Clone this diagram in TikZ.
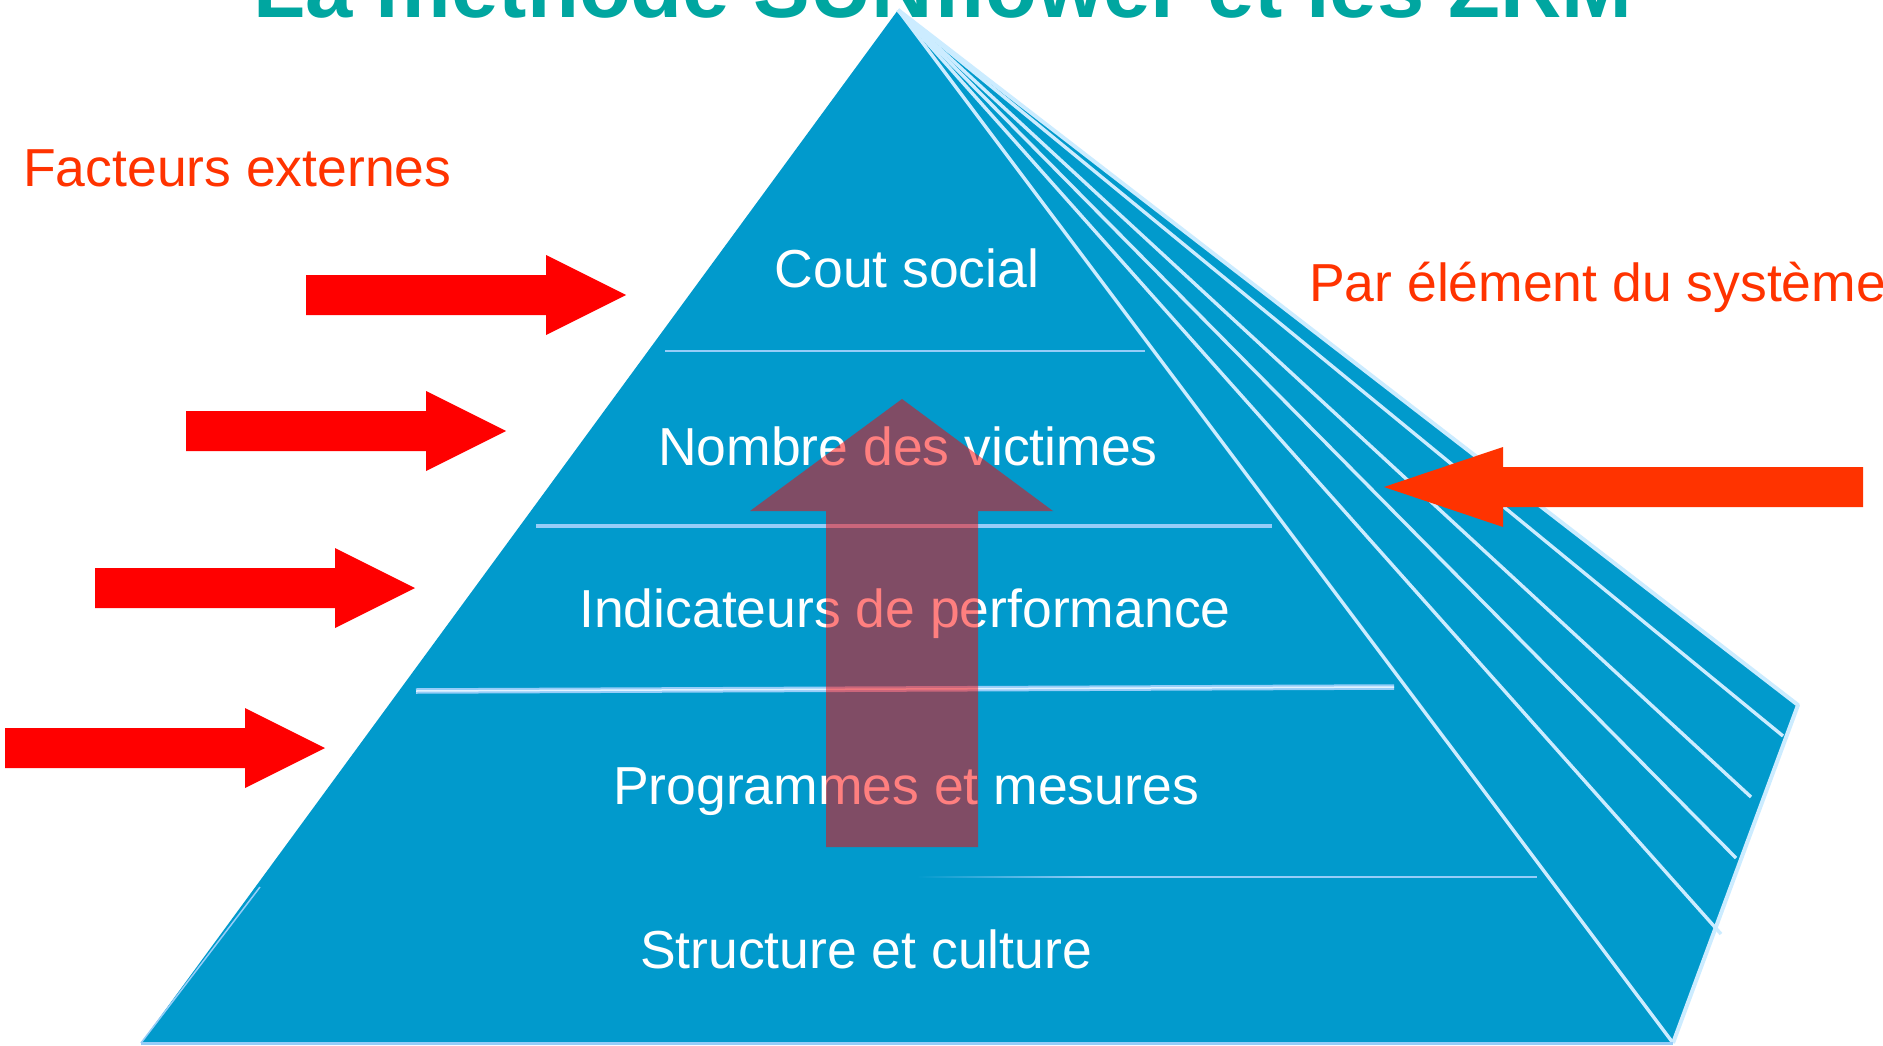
\documentclass[tikz,border=0pt]{standalone}
\usepackage{fontspec}
\setmainfont{Liberation Sans}
\definecolor{pyrblue}{RGB}{1,154,204}
\definecolor{fanpale}{RGB}{204,236,255}
\definecolor{layerpale}{RGB}{150,205,248}
\definecolor{layerlight}{RGB}{225,242,255}
\definecolor{titleteal}{RGB}{0,166,160}
\definecolor{orangered}{RGB}{255,51,0}
\definecolor{purered}{RGB}{255,0,0}
\tikzset{
  pyrfill/.style={fill=pyrblue},
  fanline/.style={draw=fanpale, line width=3.4pt},
  edgeline/.style={draw=fanpale, line width=4pt, line join=round},
  layerline/.style={draw=layerpale, line width=2.2pt},
  thinpale/.style={draw=layerpale, line width=1.5pt},
  layertext/.style={text=white, font=\fontsize{53.5}{64}\selectfont, anchor=base, inner sep=0pt},
  sidetext/.style={text=orangered, font=\fontsize{53.5}{64}\selectfont, anchor=base west, inner sep=0pt},
  titletext/.style={text=titleteal, font=\fontsize{85}{100}\selectfont\bfseries, anchor=base west, inner sep=0pt},
  extarrow/.style={fill=purered},
  sysarrow/.style={fill=orangered},
  uparrow/.style={fill=purered, fill opacity=0.5},
  pics/rarrow/.style={code={\fill[extarrow] (0,-20) -- (240,-20) -- (240,-40) -- (320,0) -- (240,40) -- (240,20) -- (0,20) -- cycle;}}
}
\begin{document}
\begin{tikzpicture}[x=1pt,y=-1pt]
\clip (0,0) rectangle (1883,1046);
\fill[white] (0,0) rectangle (1883,1046);
% title (cut off at top, as in the reference)
\node[titletext] (title) at (253,18) {La méthode SUNflower et les ZRM};
% pyramid
\coordinate (apex) at (898,10);
\coordinate (bl) at (141,1043);
\coordinate (br) at (1673,1043);
\coordinate (rc) at (1798,705);
\coordinate (f1) at (1783,736);
\coordinate (f2) at (1751,797);
\coordinate (f3) at (1736,858);
\coordinate (f4) at (1721,934);
\fill[pyrfill] (apex) -- (rc) -- (br) -- (bl) -- cycle;
\draw[fanline] (apex) -- (f1);
\draw[fanline] (apex) -- (f2);
\draw[fanline] (apex) -- (f3);
\draw[fanline] (apex) -- (f4);
\draw[fanline] (apex) -- (br);
\draw[edgeline] (apex) -- (rc) -- (br);
\draw[layerline, line width=3pt] (bl) -- (br);
\draw[thinpale] (260,887) -- (bl);
% layer separators
\draw[layerline] (665,351) -- (1145,351);
\draw[layerline, line width=3.4pt] (536,526) -- (1272,526);
\draw[layerpale, line width=5.5pt] (416,691) -- (1394,687);
\draw[layerlight, line width=1.5pt] (416,691) -- (1394,687);
\shade[left color=pyrblue, right color=layerpale] (917,876.2) rectangle (1090,877.8);
\draw[thinpale] (1090,877) -- (1537,877);
% layer labels
\node[layertext] (l1) at (907,287) {Cout social};
\node[layertext] (l2) at (908,465) {Nombre des victimes};
\node[layertext] (l3) at (905,627) {Indicateurs de performance};
\node[layertext] (l4) at (906,804) {Programmes et mesures};
\node[layertext] (l5) at (866,968) {Structure et culture};
% side labels
\node[sidetext] (ext) at (23,186) {Facteurs externes};
\node[sidetext] (sys) at (1309,301) {Par élément du système};
% external factor arrows
\pic at (306,295) {rarrow};
\pic at (186,431) {rarrow};
\pic at (95,588) {rarrow};
\pic at (5,748) {rarrow};
% system arrow
\fill[sysarrow] (1384,487) -- (1503,447) -- (1503,467) -- (1863,467) -- (1863,507) -- (1503,507) -- (1503,527) -- cycle;
% central upward arrow (translucent)
\fill[uparrow] (902,399) -- (1053,511) -- (978,511) -- (978,847) -- (826,847) -- (826,511) -- (750,511) -- cycle;
\end{tikzpicture}
\end{document}
